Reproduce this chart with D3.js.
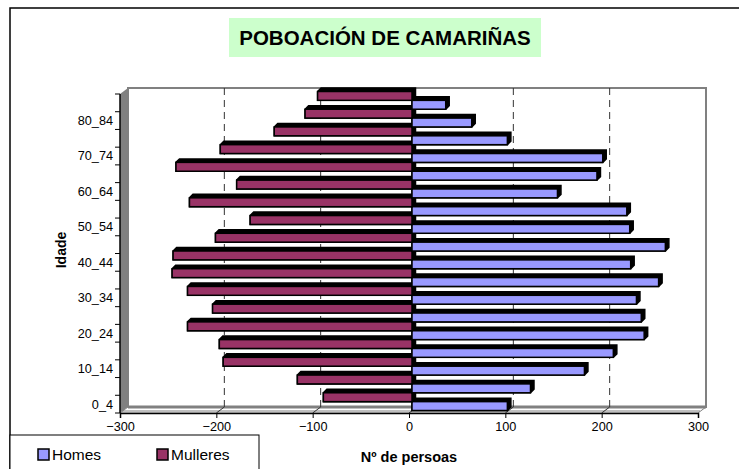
<!DOCTYPE html>
<html>
<head>
<meta charset="utf-8">
<script src="https://d3js.org/d3.v7.min.js"></script>
<style>
	body { margin: 0; background: #fff; }
	svg { display: block; font-family: "Liberation Sans", Arial, sans-serif; }
	.tick-label { font-size: 12.7px; fill: #000; }
</style>
</head>
<body>
<svg class="chart" width="739" height="469"></svg>
<script>
// Data, bottom category first
var categories = ["0_4", "5_9", "10_14", "15_19", "20_24", "25_29", "30_34", "35_39", "40_44",
	"45_49", "50_54", "55_59", "60_64", "65_69", "70_74", "75_79", "80_84", "85_89"];
var homes = [99, 123, 179, 209, 241, 238, 233, 256, 227, 263, 226, 223, 151, 192, 198, 99, 62, 35];
var mulleres = [-92, -119, -196, -200, -233, -207, -233, -249, -248, -204, -168, -231, -182, -245, -199, -143, -111, -98];
var xTicks = [-300, -200, -100, 0, 100, 200, 300];
var seriesNames = ["Homes", "Mulleres"];
var seriesColors = ["#9999FF", "#993366"];

var svg = d3.select(".chart");

// chart frame (runs off the right and bottom of the picture)
svg.append("rect")
	.attr("x", 10).attr("y", 8)
	.attr("width", 800).attr("height", 520)
	.attr("fill", "#fff").attr("stroke", "#000").attr("stroke-width", 1.5);

// title
svg.append("rect")
	.attr("x", 229).attr("y", 18).attr("width", 312).attr("height", 39)
	.attr("fill", "#CCFFCC");
svg.append("text")
	.attr("x", 385).attr("y", 44.5)
	.attr("text-anchor", "middle")
	.style("font-size", "20.5px").style("font-weight", "bold")
	.text("POBOACIÓN DE CAMARIÑAS");

// scales on the front plane
var x = d3.scaleLinear().domain([-300, 300]).range([120, 698]);
var y = d3.scaleBand().domain(categories.slice().reverse()).range([94, 413]);

var back = { dx: 8, dy: -6 };   // back wall offset
var mid = { dx: 3, dy: -2.5 };  // plane the bars sit on
var depth = 3.5;

var plotTop = y.range()[0], plotBottom = y.range()[1];
var plotLeft = x.range()[0], plotRight = x.range()[1];

// back wall
svg.append("rect")
	.attr("x", plotLeft + back.dx).attr("y", plotTop + back.dy)
	.attr("width", plotRight - plotLeft).attr("height", plotBottom - plotTop)
	.attr("fill", "#fff").attr("stroke", "#808080").attr("stroke-width", 2);

// left wall
svg.append("polygon")
	.attr("points", [[plotLeft, plotTop], [plotLeft + back.dx, plotTop + back.dy],
		[plotLeft + back.dx, plotBottom + back.dy], [plotLeft, plotBottom]].join(" "))
	.attr("fill", "#808080");

// floor
svg.append("polygon")
	.attr("points", [[plotLeft, plotBottom], [plotLeft + back.dx, plotBottom + back.dy],
		[plotRight + back.dx, plotBottom + back.dy], [plotRight, plotBottom]].join(" "))
	.attr("fill", "#fff").attr("stroke", "#808080").attr("stroke-width", 1);
svg.append("line")
	.attr("x1", plotLeft + back.dx).attr("x2", plotRight + back.dx)
	.attr("y1", plotBottom + back.dy).attr("y2", plotBottom + back.dy)
	.attr("stroke", "#808080").attr("stroke-width", 3);
svg.append("line")
	.attr("x1", plotLeft + 2).attr("x2", plotRight + 2)
	.attr("y1", plotBottom - 2).attr("y2", plotBottom - 2)
	.attr("stroke", "#808080").attr("stroke-width", 1);

// gridlines on the back wall + marks across the floor
var grid = xTicks.filter(function(d) { return d > -300 && d < 300 && d != 0; });
svg.selectAll(".grid").data(grid).enter().append("line")
	.attr("class", "grid")
	.attr("x1", function(d) { return x(d) + back.dx; })
	.attr("x2", function(d) { return x(d) + back.dx; })
	.attr("y1", plotTop + back.dy).attr("y2", plotBottom + back.dy)
	.attr("stroke", "#333").attr("stroke-dasharray", "7,5");
svg.selectAll(".floorgrid").data(xTicks.filter(function(d) { return d > -300 && d < 300; })).enter().append("line")
	.attr("class", "floorgrid")
	.attr("x1", function(d) { return x(d) + back.dx; })
	.attr("x2", function(d) { return x(d); })
	.attr("y1", plotBottom + back.dy).attr("y2", plotBottom)
	.attr("stroke", "#333");
svg.append("line")
	.attr("x1", x(0) + 5).attr("x2", x(0) + 5)
	.attr("y1", plotTop + back.dy).attr("y2", plotBottom + back.dy)
	.attr("stroke", "#000").attr("stroke-width", 2);

// bars
var h = y.bandwidth() / 2;
function drawBar(g, v, yTop, color) {
	var x1 = Math.min(x(0), x(v)) + mid.dx, x2 = Math.max(x(0), x(v)) + mid.dx;
	var y1 = yTop, y2 = yTop + h;
	g.append("polygon")
		.attr("points", [[x1, y1], [x1 + depth, y1 - depth], [x2 + depth, y1 - depth],
			[x2 + depth, y2 - depth], [x2, y2], [x1, y2]].join(" "))
		.attr("fill", "#000").attr("stroke", "#000").attr("stroke-width", 1.5);
	g.append("rect")
		.attr("x", x1).attr("y", y1)
		.attr("width", x2 - x1).attr("height", h)
		.attr("fill", color).attr("stroke", "#000").attr("stroke-width", 1.5);
}

var bars = svg.append("g");
categories.forEach(function(c, i) {
	var yt = y(c) + mid.dy;
	var g = bars.append("g");
	drawBar(g, homes[i], yt + h, seriesColors[0]);
	drawBar(g, mulleres[i], yt, seriesColors[1]);
});

// x axis
var xAxis = svg.append("g")
	.attr("transform", "translate(0," + plotBottom + ")")
	.call(d3.axisBottom(x).tickValues(xTicks).tickSize(5).tickPadding(4).tickFormat(d3.format("d")));
xAxis.select(".domain").attr("stroke", "#000").attr("stroke-width", 1.5);
xAxis.selectAll("line").attr("stroke", "#000");
xAxis.selectAll("text").attr("class", "tick-label").attr("fill", "#000")
	.style("font-family", "Liberation Sans, Arial, sans-serif");

// y axis: ticks between categories, every other label
var yAxis = svg.append("g");
yAxis.append("line")
	.attr("x1", plotLeft).attr("x2", plotLeft).attr("y1", plotTop).attr("y2", plotBottom)
	.attr("stroke", "#000").attr("stroke-width", 1.5);
yAxis.selectAll(".ytick").data(d3.range(categories.length + 1)).enter().append("line")
	.attr("x1", plotLeft - 5).attr("x2", plotLeft)
	.attr("y1", function(d) { return plotTop + d * y.step(); })
	.attr("y2", function(d) { return plotTop + d * y.step(); })
	.attr("stroke", "#000");
yAxis.selectAll(".ylabel").data(categories.filter(function(d, i) { return i % 2 == 0; })).enter().append("text")
	.attr("class", "tick-label")
	.attr("x", plotLeft - 7)
	.attr("y", function(d) { return y(d) + y.bandwidth() / 2; })
	.attr("dy", "0.35em")
	.attr("text-anchor", "end")
	.text(function(d) { return d; });

// axis titles
svg.append("text")
	.attr("transform", "translate(66,250) rotate(-90)")
	.attr("text-anchor", "middle")
	.style("font-size", "14px").style("font-weight", "bold")
	.text("Idade");
svg.append("text")
	.attr("x", 409).attr("y", 462)
	.attr("text-anchor", "middle")
	.style("font-size", "14.5px").style("font-weight", "bold")
	.text("Nº de persoas");

// legend
var legend = svg.append("g");
legend.append("rect")
	.attr("x", 10).attr("y", 435).attr("width", 249).attr("height", 60)
	.attr("fill", "#fff").attr("stroke", "#000").attr("stroke-width", 1);
var items = legend.selectAll(".item").data(seriesNames).enter().append("g")
	.attr("transform", function(d, i) { return "translate(" + [38, 157][i] + ",449)"; });
items.append("rect")
	.attr("width", 11).attr("height", 11)
	.attr("fill", function(d, i) { return seriesColors[i]; })
	.attr("stroke", "#000").attr("stroke-width", 1.5);
items.append("text")
	.attr("x", 14).attr("y", 10.5)
	.style("font-size", "15.5px")
	.text(function(d) { return d; });
</script>
</body>
</html>
